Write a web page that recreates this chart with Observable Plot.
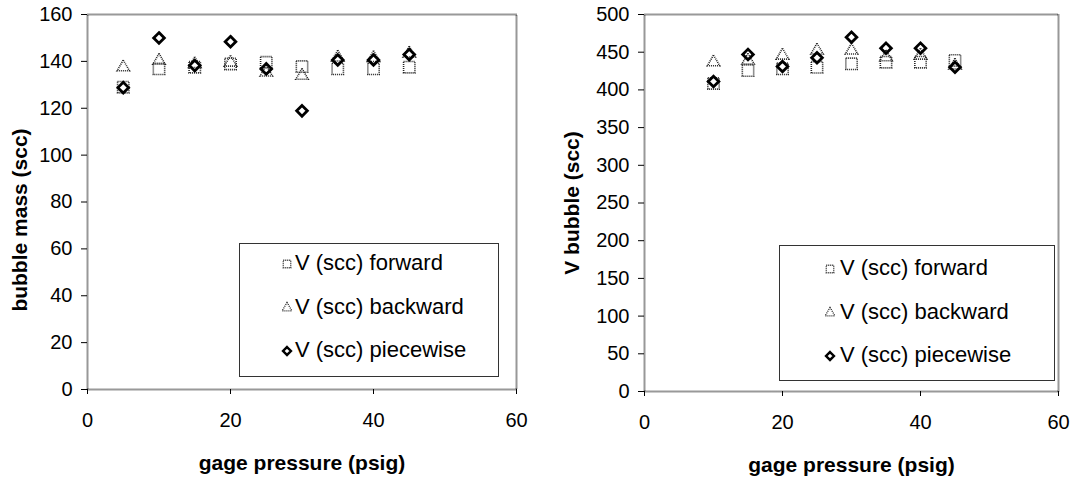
<!DOCTYPE html>
<html>
<head>
<meta charset="utf-8">
<script src="https://cdn.jsdelivr.net/npm/d3@7"></script>
<script src="https://cdn.jsdelivr.net/npm/@observablehq/plot@0.6"></script>
<style>
  body { margin: 0; background: #fff; }
  #wrap { position: relative; width: 1076px; height: 486px; font-family: "Liberation Sans", Arial, sans-serif; }
  .panel { position: absolute; top: 0; }
  .legend { position: absolute; border: 1px solid #333; background: #fff; box-sizing: border-box; }
  .row { position: absolute; font-size: 22px; color: #000; white-space: nowrap; line-height: 1; }
</style>
</head>
<body>
<div id="wrap"></div>
<script>
// ---- data ----
const seriesNames = ["V (scc) forward", "V (scc) backward", "V (scc) piecewise"];

const pressureL = [5, 10, 15, 20, 25, 30, 35, 40, 45];
const forwardL  = [129.0, 136.8, 137.5, 138.9, 139.6, 137.8, 136.8, 136.8, 137.5];
const backwardL = [137.5, 140.3, 138.9, 139.5, 135.3, 133.9, 141.7, 141.5, 143.4];
const piecewiseL = [128.8, 150.0, 138.2, 148.4, 136.8, 118.9, 140.6, 140.6, 142.9];

const pressureR = [10, 15, 20, 25, 30, 35, 40, 45];
const forwardR  = [408.5, 425.7, 428.0, 430.0, 434.6, 436.7, 436.7, 439.0];
const backwardR = [436.7, 439.0, 445.6, 452.3, 452.3, 443.4, 445.6, 432.4];
const piecewiseR = [411.1, 447.0, 431.0, 442.6, 469.9, 455.3, 455.3, 430.0];

const xTicks = [0, 20, 40, 60];
const yTicksL = [0, 20, 40, 60, 80, 100, 120, 140, 160];
const yTicksR = [0, 50, 100, 150, 200, 250, 300, 350, 400, 450, 500];

const xLabel = "gage pressure (psig)";
const yLabelL = "bubble mass (scc)";
const yLabelR = "V bubble (scc)";

// ---- build ----
const font = "Liberation Sans, Arial, sans-serif";
function rows(xs, ys) { return xs.map((x, i) => ({x, y: ys[i]})); }

function makePlot({xs, fwd, bwd, pw, yDomain, yTicks, yLabel, margins, yLabelDx, yLabelDy}) {
  return Plot.plot({
    width: 538,
    height: 486,
    marginLeft: margins[0],
    marginRight: margins[1],
    marginTop: margins[2],
    marginBottom: margins[3],
    style: {fontFamily: font, background: "#fff", color: "#000", overflow: "visible"},
    x: {domain: [0, 60], ticks: xTicks},
    y: {domain: yDomain, ticks: yTicks},
    marks: [
      Plot.frame({stroke: "#333", strokeWidth: 2, strokeDasharray: "1 1"}),
      Plot.axisX({ticks: xTicks, tickSize: 5, tickPadding: 18, fontSize: 20, label: null, tickFormat: d => String(d)}),
      Plot.axisY({ticks: yTicks, tickSize: 6, tickPadding: 9, fontSize: 20, label: null, tickFormat: d => String(d)}),
      Plot.dot(rows(xs, fwd), {x: "x", y: "y", symbol: "square", r: 6.4, stroke: "#222", strokeWidth: 1.6, strokeDasharray: "1 1", fill: "none"}),
      Plot.dot(rows(xs, bwd), {x: "x", y: "y", symbol: "triangle", r: 4.6, stroke: "#222", strokeWidth: 1.6, strokeDasharray: "1 1", fill: "none"}),
      Plot.dot(rows(xs, pw), {x: "x", y: "y", symbol: "diamond2", r: 4.8, stroke: "#000", strokeWidth: 2.8, fill: "none"}),
      Plot.text([xLabel], {frameAnchor: "bottom", dy: 80, fontSize: 21, fontWeight: "bold", fill: "#000"}),
      Plot.text([yLabel], {frameAnchor: "left", textAnchor: "middle", rotate: -90, dx: yLabelDx, dy: yLabelDy, fontSize: 21, fontWeight: "bold", fill: "#000"})
    ]
  });
}

const wrap = document.getElementById("wrap");

const left = makePlot({xs: pressureL, fwd: forwardL, bwd: backwardL, pw: piecewiseL,
  yDomain: [0, 160], yTicks: yTicksL, yLabel: yLabelL, margins: [87, 22, 14, 97], yLabelDx: -67, yLabelDy: 18});
const right = makePlot({xs: pressureR, fwd: forwardR, bwd: backwardR, pw: piecewiseR,
  yDomain: [0, 500], yTicks: yTicksR, yLabel: yLabelR, margins: [106, 18, 14, 95], yLabelDx: -72, yLabelDy: 0});

const pl = document.createElement("div"); pl.className = "panel"; pl.style.left = "0px"; pl.appendChild(left);
const pr = document.createElement("div"); pr.className = "panel"; pr.style.left = "538px"; pr.appendChild(right);
wrap.appendChild(pl); wrap.appendChild(pr);

// ---- legends (HTML overlays) ----
const symbolPaths = [
  {sym: d3.symbolSquare, size: 56, stroke: "#222", sw: 1.3, dash: "1 1"},
  {sym: d3.symbolTriangle, size: 40, stroke: "#222", sw: 1.3, dash: "1 1"},
  {sym: d3.symbolDiamond2, size: 40, stroke: "#000", sw: 2.4, dash: null}
];
function addLegend(box, markerX, textX, rowYs) {
  const lg = document.createElement("div");
  lg.className = "legend";
  Object.assign(lg.style, {left: box[0] + "px", top: box[1] + "px", width: (box[2] - box[0]) + "px", height: (box[3] - box[1]) + "px"});
  wrap.appendChild(lg);
  seriesNames.forEach((name, i) => {
    const s = symbolPaths[i];
    const svg = d3.create("svg").attr("width", 14).attr("height", 14)
      .style("position", "absolute").style("left", (markerX - 7) + "px").style("top", (rowYs[i] - 6) + "px");
    svg.append("path").attr("transform", "translate(7,7)")
      .attr("d", d3.symbol(s.sym, s.size)())
      .attr("fill", "none").attr("stroke", s.stroke).attr("stroke-width", s.sw)
      .attr("stroke-dasharray", s.dash);
    wrap.appendChild(svg.node());
    const t = document.createElement("div");
    t.className = "row";
    t.textContent = name;
    Object.assign(t.style, {left: textX + "px", top: (rowYs[i] - 11) + "px"});
    wrap.appendChild(t);
  });
}
addLegend([239, 243, 499, 377], 287, 295, [263, 307, 350]);
addLegend([779, 245, 1055, 381], 830, 840, [268, 312, 355]);
</script>
</body>
</html>
